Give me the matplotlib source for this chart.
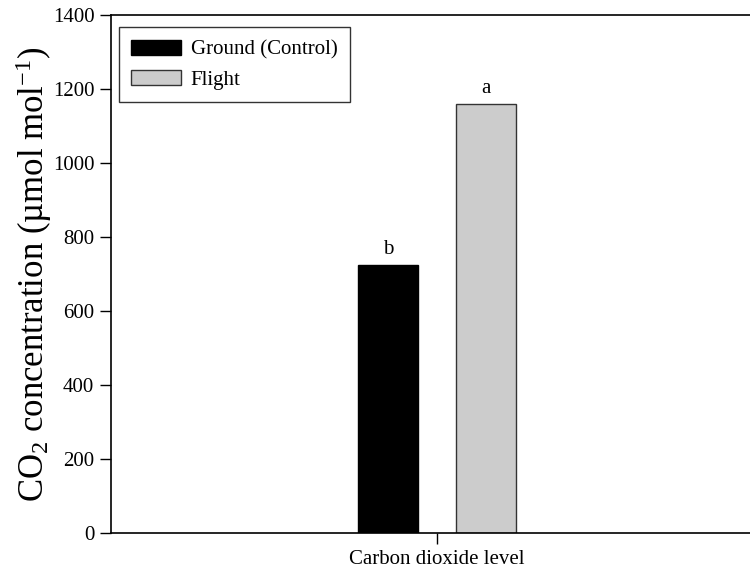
import matplotlib
matplotlib.use("Agg")
import matplotlib.pyplot as plt

# data
groups = ["Ground (Control)", "Flight"]
values = [725, 1160]
letters = ["b", "a"]
colors = ["black", "#cccccc"]
edges = ["black", "#333333"]
category = "Carbon dioxide level"

plt.rcParams["font.family"] = ["Liberation Serif", "DejaVu Serif"]
plt.rcParams["mathtext.fontset"] = "custom"
plt.rcParams["mathtext.rm"] = "Liberation Serif"
plt.rcParams["mathtext.it"] = "Liberation Serif:italic"
plt.rcParams["mathtext.default"] = "regular"

fig = plt.figure(figsize=(7.5, 5.72), dpi=100)
ax = fig.add_axes([111 / 750, 1 - 533 / 572, 1 - 111 / 750, (533 - 15) / 572])

width = 0.4
offsets = [-0.325, 0.325]
for g, v, c, e, off, lt in zip(groups, values, colors, edges, offsets, letters):
    ax.bar(off, v, width=width, color=c, edgecolor=e, linewidth=1, label=g)
    ax.text(off, v + 15, lt, ha="center", va="bottom", fontsize=15)

ax.set_xlim(-2.173, 2.087)
ax.set_ylim(0, 1400)
ax.set_yticks(range(0, 1401, 200))
ax.set_xticks([0])
ax.set_xticklabels([category])
ax.tick_params(axis="both", direction="out", length=8, width=1, labelsize=15)
ax.tick_params(axis="y", pad=4)
ax.tick_params(axis="x", pad=4)
ax.spines["right"].set_visible(False)
for s in ["left", "bottom", "top"]:
    ax.spines[s].set_linewidth(1.2)

ax.set_ylabel("CO$_2$ concentration (µmol mol$^{-1}$)", fontsize=25, labelpad=-1)

leg = ax.legend(loc="upper left", bbox_to_anchor=(0.012, 0.976), fontsize=15,
                frameon=True, fancybox=False, edgecolor="black",
                handlelength=2.4, handleheight=0.72, handletextpad=0.45,
                labelspacing=0.5, borderpad=0.6, borderaxespad=0)
leg.get_frame().set_linewidth(1)

fig.savefig("out.png", dpi=100)
